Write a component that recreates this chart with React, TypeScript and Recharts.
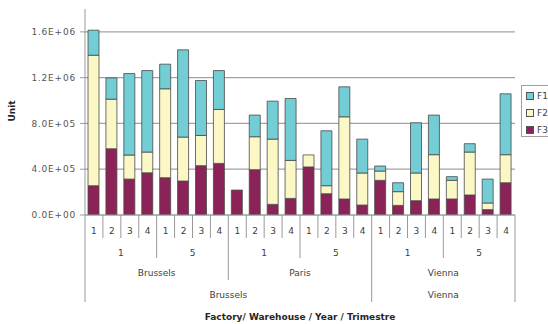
import React from 'react';
import { BarChart, Bar, XAxis, YAxis, CartesianGrid, Label } from 'recharts';

// Hierarchy of the category axis: factory / warehouse / year / trimestre
const warehouses = [
  { factory: 'Brussels', warehouse: 'Brussels' },
  { factory: 'Brussels', warehouse: 'Paris' },
  { factory: 'Vienna', warehouse: 'Vienna' },
];
const years = ['1', '5'];
const trimestres = ['1', '2', '3', '4'];

// Units per product, one value per trimestre (in the order above)
const F1 = [219000, 186000, 712000, 712000, 215000, 762000, 480000, 340000,
  0, 189000, 332000, 541000, 0, 480000, 262000, 296000,
  44000, 78000, 439000, 346000, 32000, 73000, 209000, 532000];
const F2 = [1140000, 433000, 210000, 181000, 777000, 384000, 264000, 471000,
  0, 288000, 570000, 332000, 105000, 70000, 718000, 280000,
  81000, 120000, 242000, 387000, 163000, 375000, 58000, 245000];
const F3 = [256000, 579000, 314000, 369000, 326000, 297000, 431000, 451000,
  218000, 396000, 93000, 145000, 420000, 186000, 140000, 87000,
  303000, 84000, 125000, 140000, 140000, 175000, 47000, 282000];

const yTicks = [0, 400000, 800000, 1200000, 1600000];
const Y_MAX = 1800000;

const categories = warehouses.flatMap((w) =>
  years.flatMap((yr) =>
    trimestres.map((q) => ({ factory: w.factory, warehouse: w.warehouse, year: yr, trimestre: q }))
  )
);

const data = categories.map((c, i) => ({
  ...c,
  key: `${c.factory}-${c.warehouse}-${c.year}-${c.trimestre}`,
  F1: F1[i],
  F2: F2[i],
  F3: F3[i],
}));

const COLORS = { F1: '#72CDD5', F2: '#FBF8C6', F3: '#8C2358' };
const FONT = "'DejaVu Sans', sans-serif";
const TEXT = '#404040';

const WIDTH = 548;
const HEIGHT = 324;
const Y_AXIS_W = 85;
const RIGHT = 33;
const TOP = 9;
const X_AXIS_H = 109;
const PLOT_W = WIDTH - Y_AXIS_W - RIGHT;
const PLOT_H = HEIGHT - TOP - X_AXIS_H;
const BAND = PLOT_W / data.length;

// level of the boundary at the left edge of category i: 0 trimestre, 1 year, 2 warehouse, 3 factory
function boundaryLevel(i: number) {
  if (i === 0 || i === data.length) return 3;
  const a = data[i - 1];
  const b = data[i];
  if (a.factory !== b.factory) return 3;
  if (a.warehouse !== b.warehouse) return 2;
  if (a.year !== b.year) return 1;
  return 0;
}

function groupLength(start: number, level: number) {
  let n = 1;
  while (start + n < data.length && boundaryLevel(start + n) < level) n++;
  return n;
}

const SEP_LEN = [23, 43, 65, 87];
const LABEL_DY = [19, 41, 61, 83];

function formatSci(v: number) {
  const [m, e] = v.toExponential(1).split('e');
  const exp = parseInt(e, 10);
  const sign = exp < 0 ? '-' : '+';
  const digits = String(Math.abs(exp)).padStart(2, '0');
  return `${m}E${sign}${digits}`;
}

// horizontal grid lines only at the labelled ticks
function gridRows(args: any) {
  const off = args?.offset ?? { top: TOP, height: PLOT_H };
  return yTicks.map((t) => off.top + off.height * (1 - t / Y_MAX));
}

function CategoryTick(props: any) {
  const { x, y, payload } = props;
  const i: number = props.index ?? payload.index;
  const half = BAND / 2;
  const left = x - half;
  const lvl = boundaryLevel(i);
  const d = data[i];
  const labels: React.ReactNode[] = [];
  const fields = ['trimestre', 'year', 'warehouse', 'factory'] as const;
  for (let L = 0; L <= 3; L++) {
    if (L === 0 || lvl >= L) {
      const n = L === 0 ? 1 : groupLength(i, L);
      labels.push(
        <text
          key={L}
          x={left + (n * BAND) / 2}
          y={y + LABEL_DY[L]}
          textAnchor="middle"
          fontSize={9}
          fontFamily={FONT}
          fill={TEXT}
        >
          {d[fields[L]]}
        </text>
      );
    }
  }
  const last = i === data.length - 1;
  return (
    <g>
      <line x1={left} y1={y} x2={left} y2={y + SEP_LEN[lvl]} stroke="#9a9a9a" strokeWidth={1} />
      {last && (
        <line x1={left + BAND} y1={y} x2={left + BAND} y2={y + SEP_LEN[3]} stroke="#9a9a9a" strokeWidth={1} />
      )}
      {labels}
    </g>
  );
}

function LegendBox() {
  const items = ['F1', 'F2', 'F3'] as const;
  return (
    <div
      style={{
        position: 'absolute',
        left: 521,
        top: 85,
        width: 40,
        height: 52,
        border: '1px solid #a0a0a0',
        background: '#fff',
        boxSizing: 'border-box',
        fontFamily: FONT,
        fontSize: 9,
        color: TEXT,
      }}
    >
      {items.map((k, idx) => (
        <div
          key={k}
          style={{ position: 'absolute', left: 4, top: 5 + idx * 17, height: 10, display: 'flex', alignItems: 'center' }}
        >
          <span
            style={{
              display: 'inline-block',
              width: 6,
              height: 6,
              background: COLORS[k],
              border: '1px solid #555',
              marginRight: 3,
            }}
          />
          <span>{k}</span>
        </div>
      ))}
    </div>
  );
}

export default function App() {
  return (
    <div style={{ position: 'absolute', left: 0, top: 0, width: WIDTH, height: HEIGHT, overflow: 'hidden', background: '#fff' }}>
      <BarChart
        width={WIDTH}
        height={HEIGHT}
        data={data}
        margin={{ top: TOP, right: RIGHT, left: 0, bottom: 0 }}
        barSize={11}
        style={{ fontFamily: FONT }}
      >
        <CartesianGrid
          vertical={false}
          stroke="#a3a3a3"
          strokeWidth={1.2}
          horizontalCoordinatesGenerator={gridRows}
        />
        <XAxis
          dataKey="key"
          interval={0}
          height={X_AXIS_H}
          tickLine={false}
          tickSize={0}
          tickMargin={0}
          axisLine={{ stroke: '#9a9a9a' }}
          tick={<CategoryTick />}
        >
          <Label
            content={() => (
              <text
                x={Y_AXIS_W + PLOT_W / 2}
                y={320}
                textAnchor="middle"
                fontSize={9}
                fontWeight="bold"
                fontFamily={FONT}
                fill="#262626"
              >
                Factory/ Warehouse / Year / Trimestre
              </text>
            )}
          />
        </XAxis>
        <YAxis
          width={Y_AXIS_W}
          domain={[0, Y_MAX]}
          ticks={yTicks}
          allowDataOverflow
          tickFormatter={formatSci}
          tickSize={5}
          tickMargin={4}
          axisLine={{ stroke: '#9a9a9a' }}
          tickLine={{ stroke: '#9a9a9a' }}
          tick={{ fontSize: 9, fill: '#555', fontFamily: FONT, letterSpacing: 0.8 }}
        >
          <Label
            content={() => (
              <text
                transform="translate(15,111) rotate(-90)"
                textAnchor="middle"
                fontSize={9}
                fontWeight="bold"
                fontFamily={FONT}
                fill="#262626"
              >
                Unit
              </text>
            )}
          />
        </YAxis>
        <Bar dataKey="F3" stackId="s" fill={COLORS.F3} stroke="#4a4a4a" strokeWidth={0.8} isAnimationActive={false} />
        <Bar dataKey="F2" stackId="s" fill={COLORS.F2} stroke="#4a4a4a" strokeWidth={0.8} isAnimationActive={false} />
        <Bar dataKey="F1" stackId="s" fill={COLORS.F1} stroke="#4a4a4a" strokeWidth={0.8} isAnimationActive={false} />
      </BarChart>
      <LegendBox />
    </div>
  );
}
